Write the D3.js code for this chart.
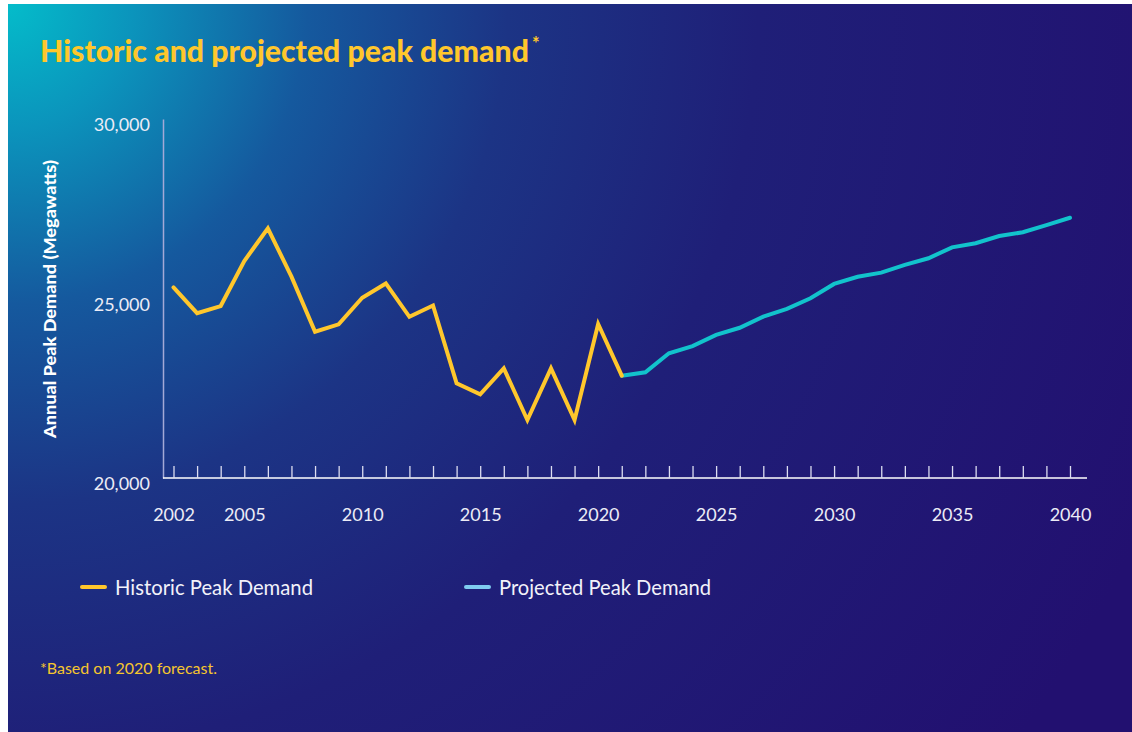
<!DOCTYPE html>
<html>
<head>
<meta charset="utf-8">
<script src="https://cdn.jsdelivr.net/npm/d3@7"></script>
<style>
  html, body { margin: 0; padding: 0; background: #ffffff; }
  svg { display: block; }
  text { font-family: Lato, "Open Sans", sans-serif; }
</style>
</head>
<body>
<svg id="chart" width="1132" height="732"></svg>
<script>
// ---- Data ----
const historicYears = [2002,2003,2004,2005,2006,2007,2008,2009,2010,2011,2012,2013,2014,2015,2016,2017,2018,2019,2020,2021];
const historicValues = [25310,24590,24790,26045,26955,25610,24075,24280,25020,25420,24490,24805,22640,22330,23055,21615,23055,21615,24290,22850];
const projectedYears = [2021,2022,2023,2024,2025,2026,2027,2028,2029,2030,2031,2032,2033,2034,2035,2036,2037,2038,2039,2040];
const projectedValues = [22850,22945,23475,23675,23985,24185,24495,24710,25005,25405,25605,25720,25935,26120,26425,26540,26740,26845,27045,27250];
const xTickLabels = [2002,2005,2010,2015,2020,2025,2030,2035,2040];
const yTickValues = [20000,25000,30000];
const seriesNames = ["Historic Peak Demand","Projected Peak Demand"];
const titleText = "Historic and projected peak demand";
const yAxisTitle = "Annual Peak Demand (Megawatts)";
const footnoteText = "*Based on 2020 forecast.";

// ---- Setup ----
const svg = d3.select("#chart");
const defs = svg.append("defs");
const grad = defs.append("radialGradient")
  .attr("id","bg").attr("gradientUnits","userSpaceOnUse")
  .attr("cx",8).attr("cy",4).attr("r",1250);
[[0,"#04BCCA"],[0.1,"#0B94BC"],[0.24,"#15599E"],[0.4,"#1C3485"],[0.6,"#1F1F78"],[1,"#221070"]]
  .forEach(([o,c]) => grad.append("stop").attr("offset",o).attr("stop-color",c));

svg.append("rect").attr("x",8).attr("y",4).attr("width",1124).attr("height",728).attr("fill","url(#bg)");

const YELLOW = "#FFC72C";
const CYAN = "#12C3CC";

// Title: horizontally compressed via transform so its box matches what is drawn
const titleWidth = 489;
const titleEl = svg.append("text")
  .attr("x",0).attr("y",0)
  .attr("fill",YELLOW).attr("font-weight",900).attr("font-size",31)
  .text(titleText);
const natural = titleEl.node().getComputedTextLength();
const sx = Math.min(1, titleWidth / natural);
titleEl.attr("transform",`translate(40,62) scale(${sx},1)`);
svg.append("text")
  .attr("x",40 + natural * sx + 3).attr("y",50)
  .attr("fill",YELLOW).attr("font-weight",700).attr("font-size",18)
  .text("*");

// Scales
const x = d3.scaleLinear().domain([2002,2040]).range([173.5,1070]);
const y = d3.scaleLinear().domain([20000,30000]).range([478,119]);

// Y axis
const yAxis = svg.append("g").attr("transform","translate(163,0)")
  .call(d3.axisLeft(y).tickValues(yTickValues).tickSize(0).tickPadding(13).tickFormat(d3.format(",")));
yAxis.select(".domain").attr("stroke","#A3A9D6").attr("stroke-width",1.5);
yAxis.selectAll("text").attr("fill","#ECECF6").attr("font-size",18)
  .attr("font-family","Lato, sans-serif").attr("transform","translate(0,6)");

// X axis (ticks upward)
const allYears = d3.range(2002,2041);
const xAxis = svg.append("g").attr("transform","translate(0,478)")
  .call(d3.axisBottom(x).tickValues(allYears).tickSizeInner(-12).tickSizeOuter(0).tickPadding(30)
    .tickFormat(d => xTickLabels.includes(d) ? String(d) : ""));
xAxis.select(".domain").attr("d","M163,0H1087").attr("stroke","#FFFFFF").attr("stroke-width",1.5);
xAxis.selectAll(".tick line").attr("stroke","#DCDDF0").attr("stroke-width",1.3);
xAxis.selectAll("text").attr("fill","#ECECF6").attr("font-size",18).attr("font-family","Lato, sans-serif");

// Y axis title
svg.append("text")
  .attr("transform","translate(56,299) rotate(-90)")
  .attr("text-anchor","middle").attr("fill","#FFFFFF")
  .attr("font-weight",900).attr("font-size",17)
  .attr("textLength",278).attr("lengthAdjust","spacingAndGlyphs")
  .text(yAxisTitle);

// Lines
const line = d3.line().x(d => x(d[0])).y(d => y(d[1]));
svg.append("path")
  .datum(projectedYears.map((yr,i) => [yr, projectedValues[i]]))
  .attr("d",line).attr("fill","none").attr("stroke",CYAN).attr("stroke-width",4)
  .attr("stroke-linejoin","miter").attr("stroke-linecap","round");
svg.append("path")
  .datum(historicYears.map((yr,i) => [yr, historicValues[i]]))
  .attr("d",line).attr("fill","none").attr("stroke",YELLOW).attr("stroke-width",4)
  .attr("stroke-linejoin","miter").attr("stroke-linecap","round");

// Legend
const legendItems = [
  {name: seriesNames[0], color: YELLOW, x: 82, w: 198},
  {name: seriesNames[1], color: "#7FCBEF", x: 466, w: 212}
];
const lg = svg.append("g");
legendItems.forEach(it => {
  lg.append("line").attr("x1",it.x).attr("x2",it.x+23).attr("y1",587).attr("y2",587)
    .attr("stroke",it.color).attr("stroke-width",4).attr("stroke-linecap","round");
  lg.append("text").attr("x",it.x+33).attr("y",595)
    .attr("fill","#F2F2FA").attr("font-size",21)
    .attr("textLength",it.w).attr("lengthAdjust","spacingAndGlyphs")
    .text(it.name);
});

// Footnote
svg.append("text").attr("x",40).attr("y",674)
  .attr("fill","#F5C52E").attr("font-size",15)
  .attr("textLength",177).attr("lengthAdjust","spacingAndGlyphs")
  .text(footnoteText);
</script>
</body>
</html>
